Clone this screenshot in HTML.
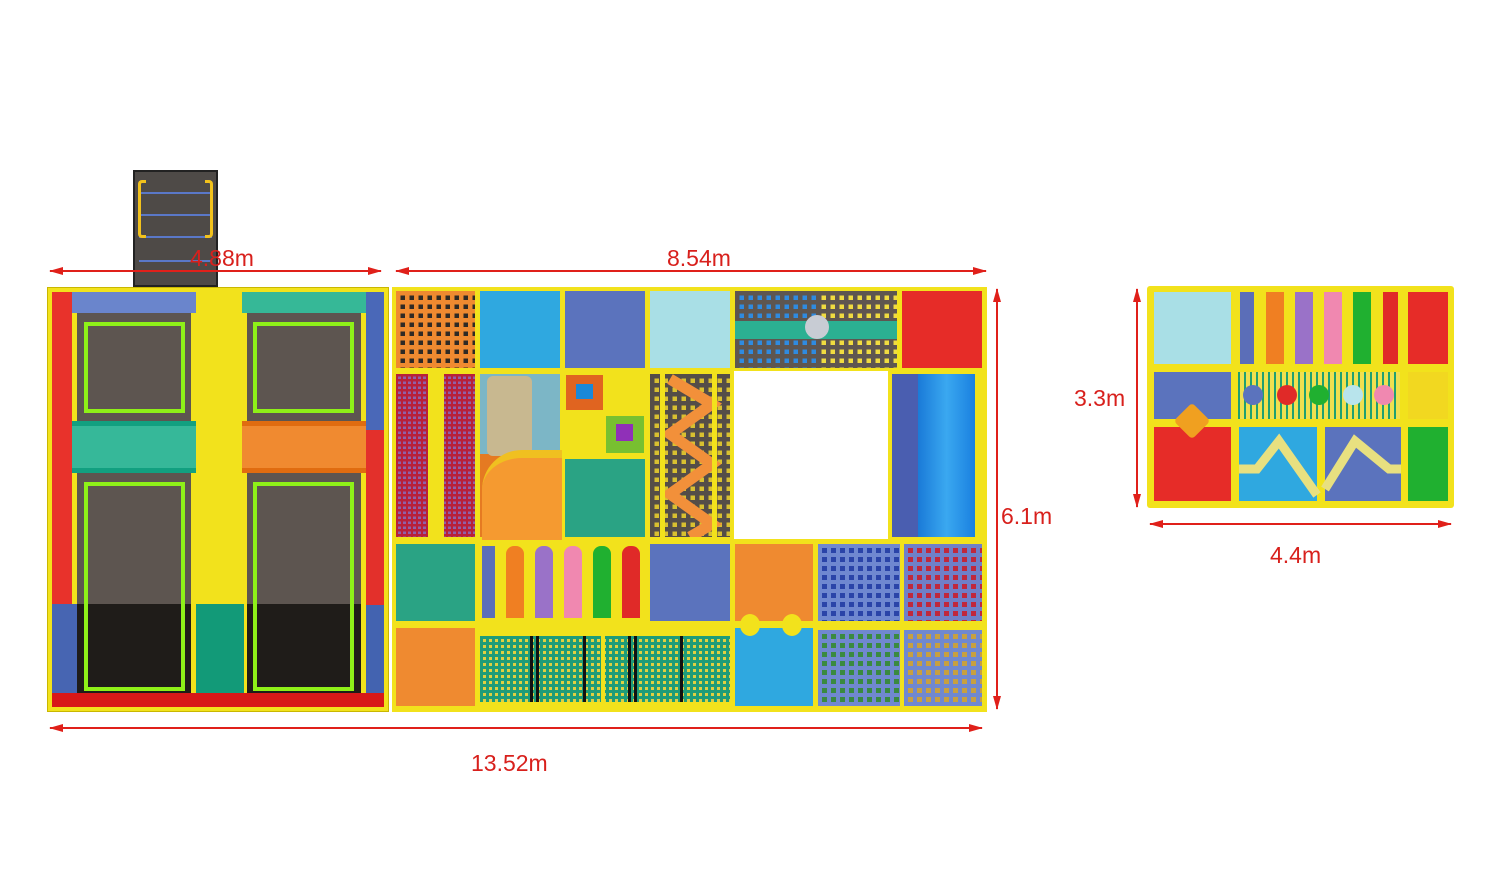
<!DOCTYPE html>
<html><head><meta charset="utf-8"><style>
body{margin:0;width:1500px;height:882px;background:#fff;position:relative;overflow:hidden;font-family:"Liberation Sans",sans-serif}
div{position:absolute;box-sizing:border-box}
.y{background:#f2e21c}
.lbl{color:#d8201c;font-size:23px;white-space:nowrap}
.p{background-size:9px 9px}
</style></head><body>
<svg width="1500" height="882" style="position:absolute;left:0;top:0;z-index:5;pointer-events:none">
<defs><marker id="a" markerWidth="14" markerHeight="8" refX="13" refY="4" orient="auto-start-reverse" markerUnits="userSpaceOnUse"><path d="M0,0 L14,4 L0,8 z" fill="#e0201a"/></marker></defs>
<g stroke="#e0201a" stroke-width="2" marker-start="url(#a)" marker-end="url(#a)">
<line x1="50" y1="271" x2="381" y2="271"/>
<line x1="396" y1="271" x2="986" y2="271"/>
<line x1="997" y1="289" x2="997" y2="709"/>
<line x1="50" y1="728" x2="982" y2="728"/>
<line x1="1137" y1="289" x2="1137" y2="507"/>
<line x1="1150" y1="524" x2="1451" y2="524"/>
</g></svg>
<div class="lbl" style="left:190px;top:245px;z-index:6">4.88m</div>
<div class="lbl" style="left:667px;top:245px">8.54m</div>
<div class="lbl" style="left:1001px;top:503px">6.1m</div>
<div class="lbl" style="left:471px;top:750px">13.52m</div>
<div class="lbl" style="left:1074px;top:385px">3.3m</div>
<div class="lbl" style="left:1270px;top:542px">4.4m</div>

<!-- ladder -->
<div style="left:133px;top:170px;width:85px;height:117px;background:#4e4a47;border:2px solid #222">
 <div style="left:4px;top:20px;width:73px;height:2px;background:#5a78c8"></div>
 <div style="left:4px;top:42px;width:73px;height:2px;background:#5a78c8"></div>
 <div style="left:4px;top:64px;width:73px;height:2px;background:#5a78c8"></div>
 <div style="left:4px;top:88px;width:73px;height:2px;background:#5a78c8"></div>
 <div style="left:3px;top:8px;width:8px;height:58px;border:3px solid #f2c21c;border-right:none;border-radius:4px 0 0 4px"></div>
 <div style="left:70px;top:8px;width:8px;height:58px;border:3px solid #f2c21c;border-left:none;border-radius:0 4px 4px 0"></div>
</div>

<!-- left trampoline block -->
<div class="y" style="left:47px;top:287px;width:342px;height:425px;border:1px solid #c9b700">
 <div style="left:4px;top:4px;width:20px;height:312px;background:#e8322b"></div>
 <div style="left:4px;top:316px;width:25px;height:90px;background:#4765b2"></div>
 <div style="left:24px;top:4px;width:124px;height:21px;background:#6a85cc"></div>
 <div style="left:194px;top:4px;width:124px;height:21px;background:#36b897"></div>
 <div style="left:318px;top:4px;width:18px;height:138px;background:#4a68b8"></div>
 <div style="left:318px;top:142px;width:18px;height:175px;background:#e3302b"></div>
 <div style="left:318px;top:317px;width:18px;height:88px;background:#4363b0"></div>
 <div style="left:29px;top:25px;width:114px;height:108px;background:#5d5550"></div>
 <div style="left:36px;top:34px;width:101px;height:91px;border:4px solid #8ef018"></div>
 <div style="left:199px;top:25px;width:114px;height:108px;background:#5d5550"></div>
 <div style="left:205px;top:34px;width:101px;height:91px;border:4px solid #8ef018"></div>
 <div style="left:24px;top:133px;width:124px;height:52px;background:#36b899;border-top:5px solid #12a080;border-bottom:5px solid #12a080"></div>
 <div style="left:194px;top:133px;width:124px;height:52px;background:#f08a30;border-top:5px solid #e06c10;border-bottom:5px solid #e06c10"></div>
 <div style="left:29px;top:185px;width:114px;height:131px;background:#5d5550"></div>
 <div style="left:29px;top:316px;width:114px;height:89px;background:#1f1c19"></div>
 <div style="left:199px;top:185px;width:114px;height:131px;background:#5d5550"></div>
 <div style="left:199px;top:316px;width:114px;height:89px;background:#1f1c19"></div>
 <div style="left:36px;top:194px;width:101px;height:209px;border:4px solid #8ef018"></div>
 <div style="left:205px;top:194px;width:101px;height:209px;border:4px solid #8ef018"></div>
 <div style="left:148px;top:316px;width:48px;height:89px;background:#129a78"></div>
 <div style="left:4px;top:405px;width:332px;height:14px;background:#d81818"></div>
</div>

<!-- middle block -->
<div class="y" style="left:392px;top:287px;width:595px;height:84px"></div>
<div class="y" style="left:392px;top:369px;width:342px;height:173px"></div>
<div class="y" style="left:888px;top:369px;width:99px;height:173px"></div>
<div class="y" style="left:392px;top:539px;width:595px;height:173px"></div>
<!-- row 1 -->
<div class="p" style="left:396px;top:291px;width:79px;height:77px;background-color:#2f2a25;background-image:linear-gradient(90deg,#ef8a30 0 50%,transparent 50%),linear-gradient(#ef8a30 0 50%,transparent 50%)"></div>
<div style="left:480px;top:291px;width:80px;height:77px;background:#2fa8e0"></div>
<div style="left:565px;top:291px;width:80px;height:77px;background:#5b73bd"></div>
<div style="left:650px;top:291px;width:80px;height:77px;background:#a9dfe6"></div>
<div class="p" style="left:735px;top:291px;width:82px;height:77px;background-color:#2f8be0;background-image:linear-gradient(90deg,#5e5650 0 50%,transparent 50%),linear-gradient(#5e5650 0 50%,transparent 50%)"></div>
<div class="p" style="left:817px;top:291px;width:80px;height:77px;background-color:#f0dc40;background-image:linear-gradient(90deg,#5e5650 0 50%,transparent 50%),linear-gradient(#5e5650 0 50%,transparent 50%)"></div>
<div style="left:735px;top:321px;width:162px;height:18px;background:#2bb092"></div>
<div style="left:805px;top:315px;width:24px;height:24px;border-radius:50%;background:#c8ccd4"></div>
<div style="left:902px;top:291px;width:80px;height:77px;background:#e62c28"></div>
<!-- row 2 -->
<div class="p" style="left:396px;top:374px;width:79px;height:163px;background-color:#9060a8;background-image:linear-gradient(90deg,#b8203a 0 45%,transparent 45%),linear-gradient(#b8203a 0 50%,transparent 50%);background-size:5px 5px"></div>
<div class="y" style="left:428px;top:374px;width:16px;height:163px"></div>
<div style="left:480px;top:374px;width:80px;height:163px;background:#e57a22"></div>
<div style="left:480px;top:374px;width:80px;height:80px;background:#7cb6c6"></div>
<div style="left:487px;top:376px;width:45px;height:80px;background:#c8b890;border-radius:6px"></div>
<div style="left:482px;top:450px;width:80px;height:90px;background:#f59a30;border-radius:40px 0 0 0;border-top:8px solid #f0c020"></div>
<div style="left:565px;top:374px;width:80px;height:80px;background:#f2e21c"></div>
<div style="left:566px;top:375px;width:37px;height:35px;background:#e06420"></div>
<div style="left:576px;top:384px;width:17px;height:15px;background:#1a88d8"></div>
<div style="left:606px;top:416px;width:38px;height:37px;background:#78c030"></div>
<div style="left:616px;top:424px;width:17px;height:17px;background:#9030b8"></div>
<div style="left:565px;top:459px;width:80px;height:78px;background:#2aa384"></div>
<div class="p" style="left:650px;top:374px;width:80px;height:163px;background-color:#d8c030;background-image:linear-gradient(90deg,#544d48 0 50%,transparent 50%),linear-gradient(#544d48 0 50%,transparent 50%)"></div>
<svg style="position:absolute;left:650px;top:374px" width="80" height="163"><polyline points="20,5 62,30 20,60 62,90 20,120 62,150 40,163" fill="none" stroke="#f2903a" stroke-width="11"/><rect x="10" y="0" width="5" height="163" fill="#f2e21c"/><rect x="62" y="0" width="5" height="163" fill="#f2e21c"/></svg>
<div style="left:892px;top:374px;width:26px;height:163px;background:#4a5eb0"></div>
<div style="left:918px;top:374px;width:57px;height:163px;background:linear-gradient(90deg,#1a7ad8,#3aa8f0 50%,#1a80e0)"></div>
<!-- row 3 -->
<div style="left:396px;top:544px;width:79px;height:77px;background:#2aa384"></div>
<div style="left:480px;top:544px;width:165px;height:77px;background:#f2e21c"></div>
<div style="left:482px;top:546px;width:13px;height:72px;background:#5b6eb8"></div>
<div style="left:506px;top:546px;width:18px;height:72px;background:#f07f22;border-radius:8px 8px 0 0"></div>
<div style="left:535px;top:546px;width:18px;height:72px;background:#9a72c8;border-radius:8px 8px 0 0"></div>
<div style="left:564px;top:546px;width:18px;height:72px;background:#f088b0;border-radius:8px 8px 0 0"></div>
<div style="left:593px;top:546px;width:18px;height:72px;background:#20b030;border-radius:8px 8px 0 0"></div>
<div style="left:622px;top:546px;width:18px;height:72px;background:#e02a28;border-radius:8px 8px 0 0"></div>
<div style="left:650px;top:544px;width:80px;height:77px;background:#5b73bd"></div>
<div style="left:735px;top:544px;width:78px;height:77px;background:#ef8a30"></div>
<div class="p" style="left:818px;top:544px;width:82px;height:77px;background-color:#2a44a8;background-image:linear-gradient(90deg,#6f88d0 0 45%,transparent 45%),linear-gradient(#6f88d0 0 45%,transparent 45%)"></div>
<div class="p" style="left:904px;top:544px;width:78px;height:77px;background-color:#c0283c;background-image:linear-gradient(90deg,#6f80c8 0 45%,transparent 45%),linear-gradient(#6f80c8 0 45%,transparent 45%)"></div>
<!-- row 4 -->
<div style="left:396px;top:628px;width:79px;height:78px;background:#ef8a30"></div>
<div class="p" style="left:480px;top:636px;width:250px;height:66px;background-color:#e0d040;background-image:linear-gradient(90deg,#1f9c78 0 50%,transparent 50%),linear-gradient(#1f9c78 0 50%,transparent 50%);background-size:6px 6px"></div>
<div class="y" style="left:601px;top:628px;width:4px;height:80px"></div>
<div style="left:530px;top:636px;width:3px;height:66px;background:#111"></div>
<div style="left:536px;top:636px;width:3px;height:66px;background:#111"></div>
<div style="left:583px;top:636px;width:3px;height:66px;background:#111"></div>
<div style="left:628px;top:636px;width:3px;height:66px;background:#111"></div>
<div style="left:634px;top:636px;width:3px;height:66px;background:#111"></div>
<div style="left:680px;top:636px;width:3px;height:66px;background:#111"></div>
<div style="left:735px;top:628px;width:78px;height:78px;background:#2fa8e0"></div>
<div style="left:740px;top:614px;width:20px;height:22px;border-radius:50%;background:#f2e21c"></div>
<div style="left:782px;top:614px;width:20px;height:22px;border-radius:50%;background:#f2e21c"></div>
<div class="p" style="left:818px;top:630px;width:82px;height:76px;background-color:#3a8a40;background-image:linear-gradient(90deg,#7088d0 0 45%,transparent 45%),linear-gradient(#7088d0 0 45%,transparent 45%)"></div>
<div class="p" style="left:904px;top:630px;width:78px;height:76px;background-color:#c8a040;background-image:linear-gradient(90deg,#7088d0 0 45%,transparent 45%),linear-gradient(#7088d0 0 45%,transparent 45%)"></div>

<!-- right small block -->
<div class="y" style="left:1147px;top:286px;width:307px;height:222px;border-radius:3px"></div>
<div style="left:1154px;top:292px;width:77px;height:72px;background:#a9dfe6"></div>
<div style="left:1238px;top:292px;width:162px;height:72px;background:#f2e21c"></div>
<div style="left:1240px;top:292px;width:14px;height:72px;background:#5b6eb8"></div>
<div style="left:1266px;top:292px;width:18px;height:72px;background:#f07f22"></div>
<div style="left:1295px;top:292px;width:18px;height:72px;background:#9a72c8"></div>
<div style="left:1324px;top:292px;width:18px;height:72px;background:#f088b0"></div>
<div style="left:1353px;top:292px;width:18px;height:72px;background:#20b030"></div>
<div style="left:1383px;top:292px;width:15px;height:72px;background:#e02a28"></div>
<div style="left:1408px;top:292px;width:40px;height:72px;background:#e62c28"></div>
<div style="left:1154px;top:372px;width:77px;height:47px;background:#5b73bd"></div>
<div class="p" style="left:1238px;top:372px;width:162px;height:47px;background-color:#f0e050;background-image:linear-gradient(90deg,#20a070 0 35%,transparent 35%);background-size:6px 6px"></div>
<div style="left:1243px;top:385px;width:20px;height:20px;border-radius:50%;background:#5b73bd"></div>
<div style="left:1277px;top:385px;width:20px;height:20px;border-radius:50%;background:#e02a28"></div>
<div style="left:1309px;top:385px;width:20px;height:20px;border-radius:50%;background:#20b030"></div>
<div style="left:1343px;top:385px;width:20px;height:20px;border-radius:50%;background:#b8e4ec"></div>
<div style="left:1374px;top:385px;width:20px;height:20px;border-radius:50%;background:#f088b0"></div>
<div style="left:1408px;top:372px;width:40px;height:47px;background:#f2d820"></div>
<div style="left:1154px;top:427px;width:77px;height:74px;background:#e62c28"></div>
<div style="left:1179px;top:408px;width:26px;height:26px;background:#f0a020;transform:rotate(45deg);border-radius:4px;z-index:2"></div>
<div style="left:1239px;top:427px;width:78px;height:74px;background:#2fa8e0"></div>
<div style="left:1325px;top:427px;width:76px;height:74px;background:#5b73bd"></div>
<svg style="position:absolute;left:1239px;top:427px" width="162" height="74"><polyline points="0,42 18,42 40,14 78,68" fill="none" stroke="#e8e080" stroke-width="9"/><polyline points="86,62 116,14 150,42 162,42" fill="none" stroke="#e8e080" stroke-width="9"/></svg>
<div style="left:1408px;top:427px;width:40px;height:74px;background:#20b030"></div>
</body></html>
